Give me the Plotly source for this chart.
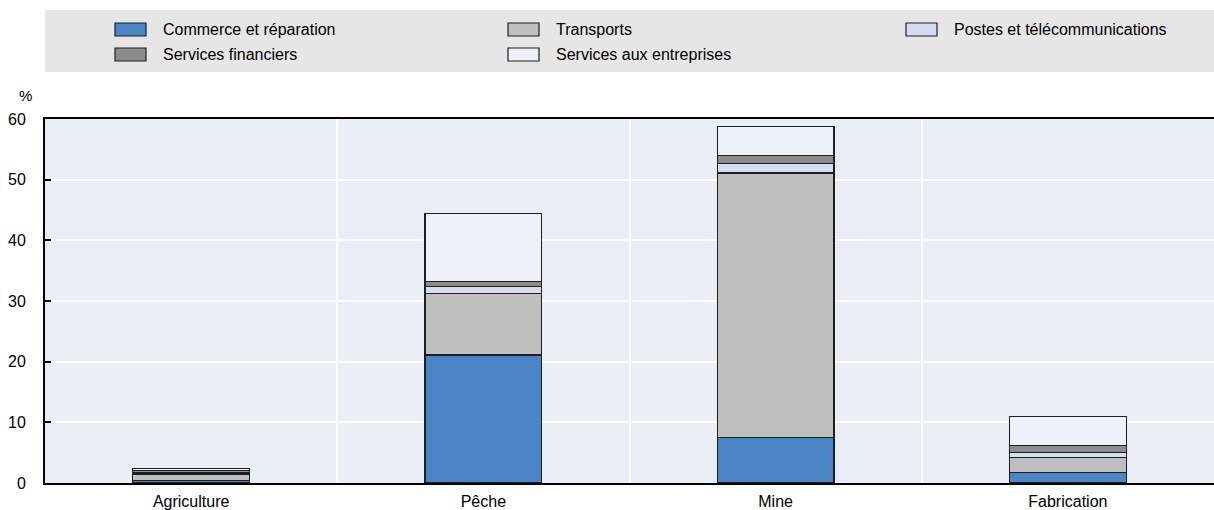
import plotly.graph_objects as go

# Sectors (x axis) and share of services inputs by type, in %
categories = ["Agriculture", "Pêche", "Mine", "Fabrication"]

commerce = [0.45, 21.1, 7.5, 1.7]
transports = [1.05, 10.1, 43.6, 2.5]
postes = [0.25, 1.2, 1.5, 0.8]
financiers = [0.3, 0.8, 1.4, 1.2]
entreprises = [0.4, 11.2, 4.8, 4.8]

series_names = [
    "Commerce et réparation",
    "Transports",
    "Postes et télécommunications",
    "Services financiers",
    "Services aux entreprises",
]
series_values = [commerce, transports, postes, financiers, entreprises]
series_colors = ["#4a86c6", "#bfbfbf", "#d4ddef", "#8c8c8c", "#edf1f9"]

y_ticks = [0, 10, 20, 30, 40, 50, 60]

FONT = "Liberation Sans, Arial, sans-serif"
W, H = 1214, 510
M_L, M_R, M_T, M_B = 45, 0, 119, 27
plot_w = W - M_L - M_R
plot_h = H - M_T - M_B


def px_to_paper(x, y):
    return (x - M_L) / plot_w, (H - M_B - y) / plot_h


fig = go.Figure()
for name, vals, col in zip(series_names, series_values, series_colors):
    fig.add_trace(go.Bar(
        x=categories, y=vals, name=name,
        marker=dict(color=col, line=dict(color="#1f1f1f", width=1.2)),
        width=0.4, showlegend=False,
    ))

shapes = []
annotations = []

# grey legend band above the plot
x0, y0 = px_to_paper(45, 72)
x1, y1 = px_to_paper(1214, 10)
shapes.append(dict(type="rect", xref="paper", yref="paper", x0=x0, x1=x1, y0=y0, y1=y1,
                   fillcolor="#e6e6e6", line=dict(width=0), layer="below"))

# legend entries laid out in three columns, filled row by row
col_x = [115, 508, 906]
row_y = [29.5, 54.5]
sym_w, sym_h, text_dx = 31, 13, 46
for i, (name, col) in enumerate(zip(series_names, series_colors)):
    cx = col_x[i % 3]
    cy = row_y[i // 3]
    sx0, sy0 = px_to_paper(cx, cy + sym_h / 2)
    sx1, sy1 = px_to_paper(cx + sym_w, cy - sym_h / 2)
    shapes.append(dict(type="rect", xref="paper", yref="paper", x0=sx0, x1=sx1, y0=sy0, y1=sy1,
                       fillcolor=col, line=dict(color="#1f1f1f", width=1.2)))
    tx, ty = px_to_paper(cx + text_dx, cy)
    annotations.append(dict(xref="paper", yref="paper", x=tx, y=ty, text=name, showarrow=False,
                            xanchor="left", yanchor="middle",
                            font=dict(family=FONT, size=16, color="#000000")))

# unit label above the y axis
ux, uy = px_to_paper(25, 95)
annotations.append(dict(xref="paper", yref="paper", x=ux, y=uy, text="%", showarrow=False,
                        xanchor="center", yanchor="middle",
                        font=dict(family=FONT, size=15, color="#000000")))

fig.update_layout(
    width=W, height=H,
    margin=dict(l=M_L, r=M_R, t=M_T, b=M_B, autoexpand=False),
    barmode="stack",
    paper_bgcolor="#ffffff",
    plot_bgcolor="#e9edf6",
    font=dict(family=FONT, size=16, color="#000000"),
    shapes=shapes,
    annotations=annotations,
    showlegend=False,
)
fig.update_xaxes(
    type="category", tickson="boundaries", ticklen=0,
    showgrid=True, gridcolor="#ffffff", gridwidth=1.5,
    showline=True, linecolor="#000000", linewidth=2, mirror=True,
    ticklabelstandoff=3, tickfont=dict(family=FONT, size=16), automargin=False,
)
fig.update_yaxes(
    range=[0, 60], tickvals=y_ticks, ticks="inside", ticklen=6, tickwidth=1.5, tickcolor="#000000",
    showgrid=True, gridcolor="#ffffff", gridwidth=1.5,
    showline=True, linecolor="#000000", linewidth=2, zeroline=False,
    ticklabelstandoff=14, tickfont=dict(family=FONT, size=16), automargin=False,
)

fig.write_html("out.html")
